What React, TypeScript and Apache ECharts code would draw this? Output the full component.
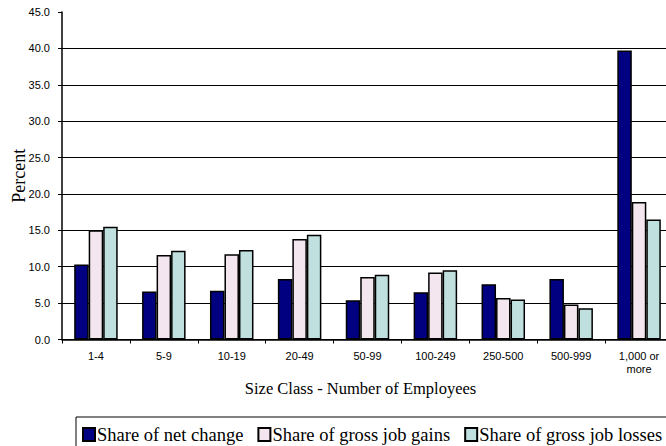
import React, { useEffect, useRef } from "react";
import * as echarts from "echarts";

const categories = ["1-4", "5-9", "10-19", "20-49", "50-99", "100-249", "250-500", "500-999", "1,000 or\nmore"];
const netChange = [10.3, 6.6, 6.7, 8.3, 5.4, 6.5, 7.6, 8.3, 39.7];
const grossGains = [15.0, 11.6, 11.7, 13.8, 8.6, 9.2, 5.7, 4.8, 18.9];
const grossLosses = [15.5, 12.2, 12.3, 14.4, 8.9, 9.5, 5.5, 4.3, 16.5];
const seriesNames = ["Share of net change", "Share of gross job gains", "Share of gross job losses"];
const colors = ["#000080", "#F3E6EE", "#C0E0E0"];

const SERIF = "Liberation Serif";
const SANS = "Liberation Sans";

export default function App() {
  const ref = useRef<HTMLDivElement>(null);
  useEffect(() => {
    if (!ref.current) return;
    const chart = echarts.init(ref.current, undefined, { renderer: "svg" });
    const mk = (name: string, data: number[], color: string) => ({
      name,
      type: "bar",
      data,
      barWidth: 14.5,
      barGap: "0%",
      itemStyle: { color, borderColor: "#000", borderWidth: 1.5 },
    });
    chart.setOption({
      animation: false,
      backgroundColor: "#fff",
      textStyle: { fontFamily: SANS },
      grid: {
        left: 62,
        top: 12,
        width: 611,
        height: 327.5,
        containLabel: false,
        outerBoundsMode: "none",
      },
      xAxis: {
        type: "category",
        data: categories,
        name: "Size Class - Number of Employees",
        nameLocation: "middle",
        nameGap: 38,
        nameTextStyle: { fontFamily: SERIF, fontSize: 16.5, color: "#000", padding: [0, 14, 0, 0] },
        axisLine: { lineStyle: { color: "#000", width: 1.5 } },
        axisTick: { show: true, length: 4, lineStyle: { color: "#000", width: 1 } },
        axisLabel: { fontFamily: SANS, fontSize: 11, color: "#000", margin: 10, lineHeight: 13 },
      },
      yAxis: {
        type: "value",
        min: 0,
        max: 45,
        interval: 5,
        name: "Percent",
        nameLocation: "middle",
        nameGap: 34,
        nameMoveOverlap: false,
        nameTextStyle: { fontFamily: SERIF, fontSize: 18, color: "#000" },
        axisLine: { show: true, lineStyle: { color: "#000", width: 1.5 } },
        axisTick: { show: true, length: 4, lineStyle: { color: "#000", width: 1 } },
        axisLabel: {
          fontFamily: SANS,
          fontSize: 11,
          color: "#000",
          margin: 12,
          formatter: (v: number) => v.toFixed(1),
        },
        splitLine: { show: true, showMaxLine: false, lineStyle: { color: "#000", width: 1 } },
      },
      legend: {
        data: seriesNames,
        left: 76,
        top: 417,
        width: 900,
        orient: "horizontal",
        icon: "rect",
        itemWidth: 12,
        itemHeight: 13,
        itemGap: 14,
        padding: [8, 6, 3, 6],
        borderColor: "#000",
        borderWidth: 1,
        textStyle: { fontFamily: SERIF, fontSize: 18.5, color: "#000", padding: [0, 0, 0, -3] },
      },
      series: [
        mk(seriesNames[0], netChange, colors[0]),
        mk(seriesNames[1], grossGains, colors[1]),
        mk(seriesNames[2], grossLosses, colors[2]),
      ],
    });
    return () => chart.dispose();
  }, []);
  return (
    <div
      ref={ref}
      style={{ position: "absolute", left: 0, top: 0, width: 666, height: 446 }}
    />
  );
}
